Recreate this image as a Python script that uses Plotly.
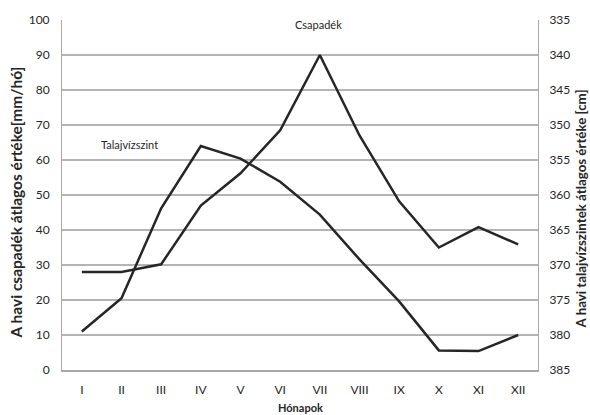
import plotly.graph_objects as go

months = ["I", "II", "III", "IV", "V", "VI", "VII", "VIII", "IX", "X", "XI", "XII"]
csapadek = [28, 28, 30.2, 47, 56.2, 68.5, 90, 67, 48.2, 35, 40.8, 35.9]
talajviz = [379.5, 374.75, 361.9, 353, 354.8, 358.1, 362.8, 369.2, 375.2, 382.2, 382.3, 380]

FONT = "Lato"
TXT = "#262626"
LINE = "#262626"
AXIS = "#a8a8a8"
GRID = "#b4b4b4"

fig = go.Figure()
fig.add_trace(go.Scatter(x=months, y=csapadek, mode="lines", name="Csapadék",
                         line=dict(color=LINE, width=2.5), yaxis="y"))
fig.add_trace(go.Scatter(x=months, y=talajviz, mode="lines", name="Talajvízszint",
                         line=dict(color=LINE, width=2.5), yaxis="y2"))

fig.update_layout(
    width=590, height=415,
    margin=dict(l=62, r=52, t=17, b=45),
    paper_bgcolor="white", plot_bgcolor="white",
    showlegend=False,
    font=dict(family=FONT, size=12, color=TXT),
    xaxis=dict(type="category", range=[-0.5, 11.5], showgrid=False,
               showline=True, linecolor=AXIS, linewidth=1.5,
               ticks="outside", ticklen=8, tickcolor="rgba(0,0,0,0)",
               tickfont=dict(size=12, color=TXT), zeroline=False),
    yaxis=dict(range=[0, 100], dtick=10,
               showgrid=True, gridcolor=GRID, gridwidth=1.5,
               showline=True, linecolor=AXIS, linewidth=1,
               ticks="outside", ticklen=9, tickcolor="rgba(0,0,0,0)",
               zeroline=False, tickfont=dict(size=12, color=TXT)),
    yaxis2=dict(range=[385, 335], dtick=5,
                overlaying="y", side="right", showgrid=False,
                showline=True, linecolor=AXIS, linewidth=1,
                ticks="outside", ticklen=8, tickcolor="rgba(0,0,0,0)",
                zeroline=False, tickfont=dict(size=12, color=TXT)),
)

# white gap in the top gridline behind the Csapadék label (empty annotation box)
fig.add_annotation(text=" ", xref="paper", yref="paper",
                   x=(325 - 62) / 476, y=1.0, xanchor="center", yanchor="middle",
                   width=84, height=6, bgcolor="white", borderpad=0,
                   showarrow=False, font=dict(size=4))

def note(text, px, py, size, angle=0):
    fig.add_annotation(text=text, xref="paper", yref="paper",
                       x=(px - 62) / 476, y=(370 - py) / 353,
                       xanchor="center", yanchor="middle",
                       showarrow=False, textangle=angle,
                       font=dict(size=size, color=TXT))

note("Csapadék", 318, 22, 11)
note("Talajvízszint", 129, 143, 11)
note("<b>Hónapok</b>", 300, 408, 11)
note("<b>A havi csapadék átlagos értéke[mm/hó]</b>", 16, 201, 15.5, -90)
note("<b>A havi talajvízszintek átlagos értéke [cm]</b>", 581, 208, 13.3, -90)

fig.write_html("out.html")
